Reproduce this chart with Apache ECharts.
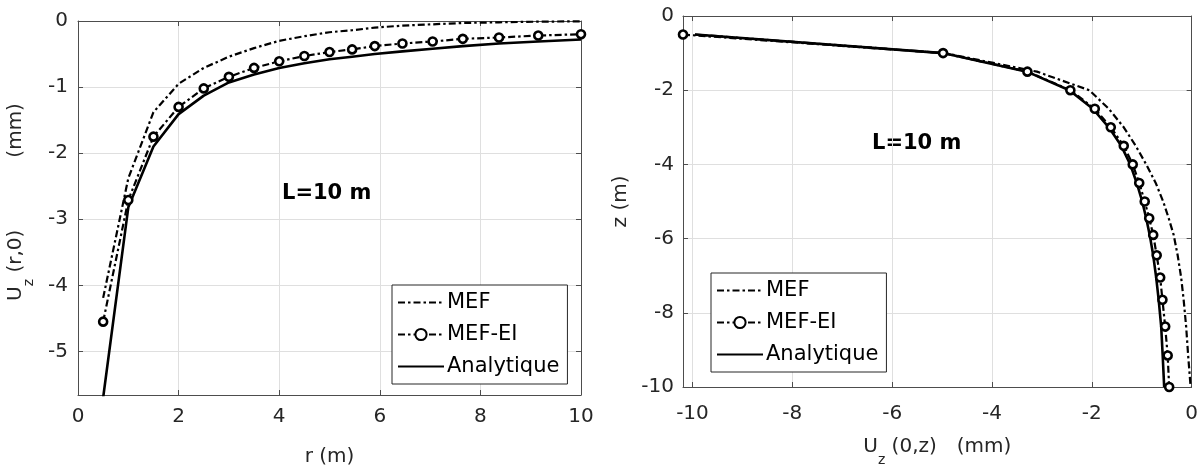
<!DOCTYPE html>
<html>
<head>
<meta charset="utf-8">
<script src="https://cdn.jsdelivr.net/npm/echarts@6/dist/echarts.min.js"></script>
<style>html,body{margin:0;padding:0;background:#fff;}#c{width:1201px;height:472px;}</style>
</head>
<body>
<div id="c"></div>
<script>
// mesh nodes (r in m for left chart, depth |z| in m for right chart)
const nodes = [0.5,1,1.5,2,2.5,3,3.5,4,4.5,5,5.45,5.9,6.45,7.05,7.65,8.37,9.15,10];
// Left chart: Uz(r,0) in mm
const mefR   = [-4.19,-2.38,-1.38,-0.95,-0.71,-0.54,-0.41,-0.30,-0.23,-0.17,-0.14,-0.10,-0.07,-0.05,-0.03,-0.02,-0.01,-0.005];
const mefEiR = [-4.55,-2.71,-1.75,-1.30,-1.02,-0.845,-0.71,-0.61,-0.53,-0.47,-0.43,-0.38,-0.34,-0.31,-0.27,-0.25,-0.22,-0.20];
const anaR   = [-5.70,-2.82,-1.90,-1.41,-1.13,-0.93,-0.81,-0.71,-0.64,-0.58,-0.54,-0.50,-0.46,-0.42,-0.38,-0.34,-0.31,-0.28];
// Right chart: Uz(0,z) in mm at z = -nodes
const mefZ   = [-9.95,-4.95,-3.10,-2.05,-1.66,-1.36,-1.12,-0.91,-0.72,-0.57,-0.46,-0.36,-0.28,-0.21,-0.16,-0.11,-0.07,-0.02];
const mefEiZ = [-10.19,-4.98,-3.29,-2.43,-1.94,-1.62,-1.36,-1.18,-1.05,-0.94,-0.85,-0.77,-0.70,-0.63,-0.585,-0.53,-0.48,-0.45];
const anaZ   = [-9.95,-4.98,-3.30,-2.45,-1.98,-1.66,-1.41,-1.23,-1.10,-0.99,-0.91,-0.84,-0.77,-0.71,-0.66,-0.61,-0.58,-0.55];
// tick labels
const leftXTicks = [0,2,4,6,8,10];
const leftYTicks = [0,-1,-2,-3,-4,-5];
const rightXTicks = [-10,-8,-6,-4,-2,0];
const rightYTicks = [0,-2,-4,-6,-8,-10];
const names = ['MEF','MEF-EI','Analytique'];

const FONT = '"DejaVu Sans", "Liberation Sans", Arial, sans-serif';
const AX = '#4d4d4d', TXT = '#262626', GRID = '#dfdfdf';

function pairs(xs, ys){ return xs.map((x,i)=>[x, ys[i]]); }

function mainAxis(extra, ticks, withLabels, margin){
  return Object.assign({
    type:'value',
    axisLine:{show:true, onZero:false, lineStyle:{color:AX, width:1}},
    axisTick:{show:true, inside:true, length:5, customValues:ticks, lineStyle:{color:AX}},
    axisLabel:{show:withLabels, customValues:ticks, color:TXT, fontSize:20, fontFamily:FONT, margin:margin||10},
    splitLine:{show:withLabels, lineStyle:{color:GRID, width:1}},
  }, extra);
}

function richFor(gap){
  return {
    a:{fontSize:20, fontFamily:FONT, color:TXT, verticalAlign:'top', lineHeight:30},
    s:{fontSize:14, fontFamily:FONT, color:TXT, verticalAlign:'bottom', lineHeight:30},
    g:{fontSize:20, fontFamily:FONT, width:gap, lineHeight:30}
  };
}

const dashDot = [7,3,2.5,3];
function mkSeries(name, data, xi, yi){
  const base = {name, type:'line', xAxisIndex:xi, yAxisIndex:yi, data, animation:false, clip:true};
  if(name==='MEF') return Object.assign(base,{symbol:'none', z:2,
      itemStyle:{color:'rgba(0,0,0,0)', borderWidth:0},
      lineStyle:{color:'#000', width:2.2, type:dashDot}});
  if(name==='MEF-EI') return Object.assign(base,{symbol:'circle', symbolSize:8, z:4,
      itemStyle:{color:'#fff', borderColor:'#000', borderWidth:2.6},
      lineStyle:{color:'#000', width:2.2, type:dashDot}});
  return Object.assign(base,{symbol:'none', z:3,
      itemStyle:{color:'rgba(0,0,0,0)', borderWidth:0},
      lineStyle:{color:'#000', width:2.6, type:'solid'}});
}

const legendCommon = {
  orient:'vertical', show:true, data:names,
  backgroundColor:'#fff', borderColor:'#262626', borderWidth:1,
  padding:[5,8,5,5], itemGap:7, itemWidth:46, itemHeight:14,
  textStyle:{fontSize:21, fontFamily:FONT, color:'#000', lineHeight:25, padding:[0,0,0,-2]},
  selectedMode:false
};

const option = {
  animation:false,
  backgroundColor:'#fff',
  grid:[
    {left:78, top:21, width:503, height:379, containLabel:false},
    {left:683, top:16, width:509, height:373, containLabel:false}
  ],
  xAxis:[
    mainAxis({gridIndex:0, min:0, max:10, position:'bottom',
      name:'r (m)', nameLocation:'middle', nameGap:52,
      nameTextStyle:{fontSize:20, fontFamily:FONT, color:TXT}}, leftXTicks, true, 12),
    mainAxis({gridIndex:0, min:0, max:10, position:'top'}, leftXTicks, false),
    mainAxis({gridIndex:1, min:-10.19, max:0, position:'bottom',
      name:'{a|U}{s|z}{a| (0,z)}{g| }{a|(mm)}', nameLocation:'middle', nameGap:50,
      nameTextStyle:{rich:richFor(20)}}, rightXTicks, true, 17),
    mainAxis({gridIndex:1, min:-10.19, max:0, position:'top'}, rightXTicks, false)
  ],
  yAxis:[
    mainAxis({gridIndex:0, min:-5.66, max:0, position:'left',
      name:'{a|U}{s|z}{a| (r,0)}{g| }{a|(mm)}', nameLocation:'middle', nameGap:42, nameRotate:90,
      nameTextStyle:{rich:richFor(72), padding:[0,0,0,12]}}, leftYTicks, true, 10),
    mainAxis({gridIndex:0, min:-5.66, max:0, position:'right'}, leftYTicks, false),
    mainAxis({gridIndex:1, min:-10, max:0, position:'left',
      name:'z (m)', nameLocation:'middle', nameGap:52, nameRotate:90,
      nameTextStyle:{fontSize:20, fontFamily:FONT, color:TXT}}, rightYTicks, true, 9),
    mainAxis({gridIndex:1, min:-10, max:0, position:'right'}, rightYTicks, false)
  ],
  legend:[
    Object.assign({left:392, top:285}, legendCommon),
    Object.assign({left:711, top:273}, legendCommon)
  ],
  graphic:[
    {type:'text', left:282, top:183, style:{text:'L=10 m', fontSize:21, fontWeight:'bold', fontFamily:FONT, fill:'#000'}},
    {type:'text', left:872, top:133, style:{text:'L=10 m', fontSize:21, fontWeight:'bold', fontFamily:FONT, fill:'#000'}}
  ],
  series:[
    mkSeries('MEF', pairs(nodes, mefR), 0, 0),
    mkSeries('MEF-EI', pairs(nodes, mefEiR), 0, 0),
    mkSeries('Analytique', pairs(nodes, anaR), 0, 0),
    mkSeries('MEF', pairs(mefZ, nodes.map(v=>-v)), 2, 2),
    mkSeries('MEF-EI', pairs(mefEiZ, nodes.map(v=>-v)), 2, 2),
    mkSeries('Analytique', pairs(anaZ, nodes.map(v=>-v)), 2, 2)
  ]
};
const chart = echarts.init(document.getElementById('c'), null, {renderer:'canvas'});
chart.setOption(option);
</script>
</body>
</html>
